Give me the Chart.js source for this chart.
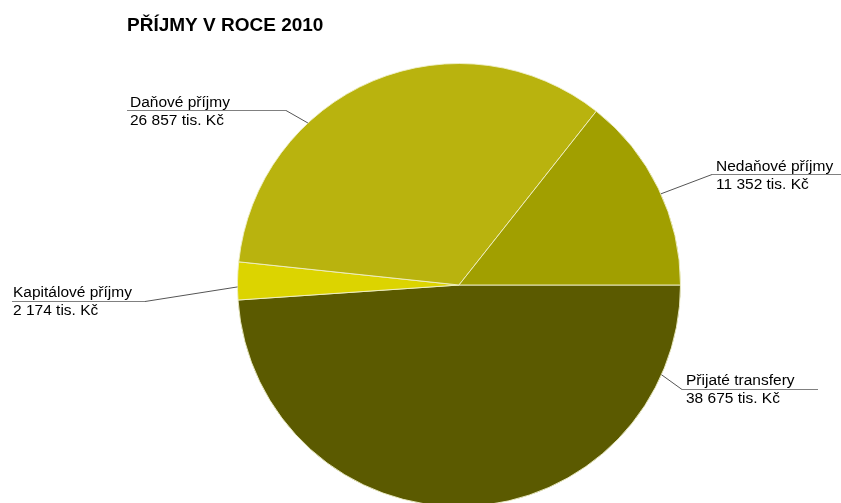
<!DOCTYPE html>
<html>
<head>
<meta charset="utf-8">
<script src="https://cdn.jsdelivr.net/npm/chart.js@4/dist/chart.umd.min.js"></script>
<style>
  html, body { margin: 0; padding: 0; background: #fff; overflow: hidden; }
  #wrap { width: 841px; height: 570px; position: relative; }
</style>
</head>
<body>
<div id="wrap"><canvas id="chart"></canvas></div>
<script>
// chart data
var categories = ["Přijaté transfery", "Kapitálové příjmy", "Daňové příjmy", "Nedaňové příjmy"];
var values = [38675, 2174, 26857, 11352];
var unit = "tis. Kč";
var sliceColors = ["#5b5a00", "#dcd400", "#b9b30e", "#a19f00"];
var chartTitle = "PŘÍJMY V ROCE 2010";

// where each callout sits (text x, first baseline, line y, line ends, elbow x, angle on the rim)
var callouts = [
  { tx: 686, ty: 385, ly: 389.5, x1: 682, x2: 818, ex: 682, ang: 23.9 },
  { tx: 13, ty: 297, ly: 301.5, x1: 12, x2: 145, ex: 145, ang: 179.5 },
  { tx: 130, ty: 107, ly: 110.5, x1: 127, x2: 286, ex: 286, ang: -133 },
  { tx: 716, ty: 171, ly: 174.5, x1: 712, x2: 841, ex: 712, ang: -24.3 }
];

function fmt(n) {
  return String(n).replace(/\B(?=(\d{3})+(?!\d))/g, " ");
}

var calloutPlugin = {
  id: "callouts",
  afterDraw: function(chart) {
    var ctx = chart.ctx;
    var arcs = chart.getDatasetMeta(0).data;
    ctx.save();
    // title
    ctx.fillStyle = "#000";
    ctx.font = "bold 19px 'Liberation Sans', Arial, sans-serif";
    ctx.textBaseline = "alphabetic";
    ctx.textAlign = "left";
    ctx.fillText(chartTitle, 127, 31);

    for (var i = 0; i < callouts.length; i++) {
      var c = callouts[i];
      var arc = arcs[i];
      var a = c.ang * Math.PI / 180;
      var px = arc.x + Math.cos(a) * arc.outerRadius;
      var py = arc.y + Math.sin(a) * arc.outerRadius;

      ctx.strokeStyle = "#808080";
      ctx.lineWidth = 1;
      ctx.beginPath();
      ctx.moveTo(c.x1, c.ly);
      ctx.lineTo(c.x2, c.ly);
      ctx.stroke();
      ctx.strokeStyle = "#555";
      ctx.beginPath();
      ctx.moveTo(c.ex, c.ly);
      ctx.lineTo(px, py);
      ctx.stroke();

      ctx.fillStyle = "#000";
      ctx.font = "15.5px 'Liberation Sans', Arial, sans-serif";
      ctx.fillText(categories[i], c.tx, c.ty);
      ctx.fillText(fmt(values[i]) + " " + unit, c.tx, c.ty + 18);
    }
    ctx.restore();
  }
};

var chart = new Chart(document.getElementById("chart"), {
  type: "pie",
  data: {
    labels: categories,
    datasets: [{
      data: values,
      backgroundColor: sliceColors,
      borderColor: "rgba(240,240,200,0.9)",
      borderWidth: 1
    }]
  },
  options: {
    responsive: true,
    maintainAspectRatio: false,
    animation: false,
    rotation: 90,
    layout: { padding: { left: 77, right: 0, top: 63, bottom: 63 } },
    plugins: {
      legend: { display: false },
      title: { display: false },
      tooltip: { enabled: false }
    }
  },
  plugins: [calloutPlugin]
});
</script>
</body>
</html>
